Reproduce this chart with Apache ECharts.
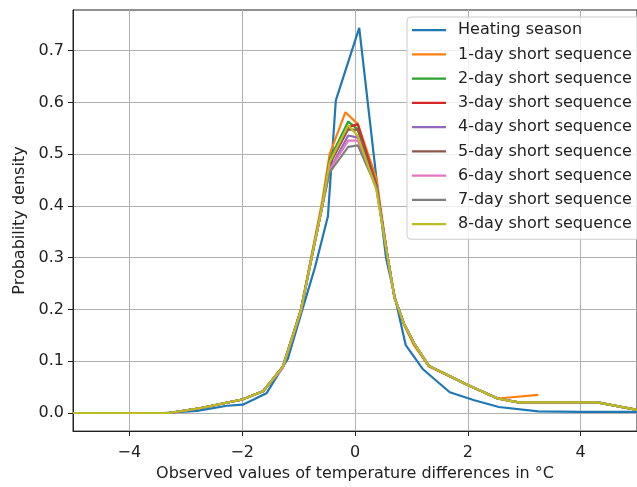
<!DOCTYPE html>
<html>
<head>
<meta charset="utf-8">
<script src="https://cdn.jsdelivr.net/npm/echarts@6/dist/echarts.min.js"></script>
<style>
html,body{margin:0;padding:0;background:#fff;}
#chart{width:637px;height:487px;}
</style>
</head>
<body>
<div id="chart"></div>
<script>
const seriesNames = ["Heating season","1-day short sequence","2-day short sequence","3-day short sequence","4-day short sequence","5-day short sequence","6-day short sequence","7-day short sequence","8-day short sequence"];
const colors = ["#1f77b4","#ff7f0e","#2ca02c","#d62728","#9467bd","#8c564b","#e377c2","#7f7f7f","#bcbd22"];
const xTicks = [-4, -2, 0, 2, 4];
const yTicks = [0, 0.1, 0.2, 0.3, 0.4, 0.5, 0.6, 0.7];

const heatX = [-5, -3.4, -2.8, -2.27, -1.99, -1.57, -1.19, -0.96, -0.71, -0.48, -0.34, 0.075, 0.38, 0.55, 0.9, 1.2, 1.68, 2.1, 2.55, 3.25, 4, 5];
const heatY = [0, 0, 0.004, 0.014, 0.016, 0.038, 0.105, 0.19, 0.281, 0.38, 0.604, 0.744, 0.453, 0.30, 0.131, 0.085, 0.040, 0.025, 0.0115, 0.003, 0.002, 0.002];

const day1X = [-5, -3.3, -2.73, -2.0, -1.63, -1.28, -0.96, -0.77, -0.58, -0.45, -0.17, 0.05, 0.38, 0.58, 0.7, 0.87, 1.05, 1.31, 2.0, 2.53, 3.25];
const day1Y = [0, 0, 0.0096, 0.026, 0.042, 0.09, 0.2, 0.305, 0.41, 0.5, 0.581, 0.558, 0.453, 0.30, 0.225, 0.17, 0.13, 0.09, 0.054, 0.028, 0.035];

const shortX = [-5, -3.3, -2.73, -2.0, -1.63, -1.28, -0.96, -0.77, -0.58, -0.45, -0.12, 0.05, 0.38, 0.58, 0.7, 0.87, 1.05, 1.31, 2.0, 2.53, 2.9, 4.3, 5];
const day2Y = [0, 0, 0.0096, 0.026, 0.042, 0.089, 0.198, 0.30, 0.40, 0.49, 0.563, 0.548, 0.435, 0.30, 0.223, 0.172, 0.134, 0.091, 0.054, 0.028, 0.0205, 0.0205, 0.006];
const day3Y = [0, 0, 0.0096, 0.026, 0.042, 0.089, 0.198, 0.30, 0.40, 0.485, 0.552, 0.558, 0.44, 0.30, 0.223, 0.172, 0.134, 0.091, 0.054, 0.028, 0.0205, 0.0205, 0.006];
const day4Y = [0, 0, 0.0096, 0.026, 0.042, 0.088, 0.197, 0.30, 0.40, 0.47, 0.536, 0.532, 0.435, 0.30, 0.223, 0.172, 0.134, 0.091, 0.054, 0.028, 0.0205, 0.0205, 0.006];
const day5Y = [0, 0, 0.0096, 0.026, 0.042, 0.089, 0.198, 0.30, 0.40, 0.48, 0.548, 0.547, 0.44, 0.30, 0.223, 0.172, 0.134, 0.091, 0.054, 0.028, 0.0205, 0.0205, 0.006];
const day6Y = [0, 0, 0.0096, 0.026, 0.042, 0.087, 0.196, 0.30, 0.40, 0.47, 0.526, 0.526, 0.435, 0.30, 0.223, 0.172, 0.134, 0.091, 0.054, 0.028, 0.0205, 0.0205, 0.006];
const day7Y = [0, 0, 0.0096, 0.026, 0.042, 0.089, 0.198, 0.30, 0.40, 0.465, 0.514, 0.517, 0.435, 0.30, 0.223, 0.172, 0.134, 0.091, 0.054, 0.028, 0.0205, 0.0205, 0.006];
const day8Y = [0, 0, 0.0096, 0.026, 0.042, 0.089, 0.198, 0.30, 0.40, 0.485, 0.556, 0.535, 0.43, 0.30, 0.223, 0.172, 0.134, 0.091, 0.054, 0.028, 0.0205, 0.0205, 0.006];

const seriesXs = [heatX, day1X, shortX, shortX, shortX, shortX, shortX, shortX, shortX];
const seriesYs = [heatY, day1Y, day2Y, day3Y, day4Y, day5Y, day6Y, day7Y, day8Y];

const FONT = "DejaVu Sans";
const chart = echarts.init(document.getElementById('chart'), null, {renderer: 'canvas'});

const series = seriesNames.map((name, i) => ({
  name: name,
  type: 'line',
  data: seriesXs[i].map((x, j) => [x, seriesYs[i][j]]),
  symbol: 'none',
  showSymbol: false,
  smooth: false,
  lineStyle: {color: colors[i], width: 2.2},
  itemStyle: {color: colors[i]},
  emphasis: {disabled: true},
  animation: false,
  clip: true,
  z: 2 + i
}));

const option = {
  animation: false,
  backgroundColor: '#ffffff',
  grid: {left: 73, top: 10, width: 574, height: 425, show: true, borderColor: '#222', borderWidth: 1, backgroundColor: 'transparent', containLabel: false},
  xAxis: {
    type: 'value', min: -5, max: 5,
    name: 'Observed values of temperature differences in °C',
    nameLocation: 'middle', nameGap: 31,
    nameTextStyle: {fontFamily: FONT, fontSize: 16, color: '#222'},
    axisLine: {show: true, onZero: false, lineStyle: {color: '#222', width: 1}},
    axisTick: {show: true, inside: false, length: 5, customValues: xTicks, lineStyle: {color: '#222', width: 1}},
    axisLabel: {show: true, margin: 14, customValues: xTicks, fontFamily: FONT, fontSize: 16, color: '#222',
      formatter: v => (v < 0 ? '\u2212' : '') + Math.abs(v)},
    splitLine: {show: true, lineStyle: {color: '#b0b0b0', width: 1}}
  },
  yAxis: {
    type: 'value', min: -0.035, max: 0.7785,
    name: 'Probability density',
    nameLocation: 'middle', nameGap: 44,
    nameTextStyle: {fontFamily: FONT, fontSize: 16, color: '#222'},
    axisLine: {show: true, onZero: false, lineStyle: {color: '#222', width: 1}},
    axisTick: {show: true, inside: false, length: 5, customValues: yTicks, lineStyle: {color: '#222', width: 1}},
    axisLabel: {show: true, margin: 9, customValues: yTicks, fontFamily: FONT, fontSize: 16, color: '#222',
      formatter: v => v.toFixed(1)},
    splitLine: {show: true, lineStyle: {color: '#b0b0b0', width: 1}}
  },
  legend: {
    show: true,
    orient: 'vertical',
    left: 407, top: 17,
    padding: [1, 12, 3, 5],
    itemGap: 0,
    icon: 'rect',
    itemWidth: 34, itemHeight: 2.4,
    backgroundColor: 'rgba(255,255,255,0.8)',
    borderColor: '#cccccc', borderWidth: 1, borderRadius: 4,
    selectedMode: false,
    textStyle: {fontFamily: FONT, fontSize: 16, color: '#222', lineHeight: 24.25, padding: [0, 0, 0, 7]},
    data: seriesNames.map((n, i) => ({name: n, icon: 'rect', itemStyle: {color: colors[i], borderWidth: 0}}))
  },
  series: series
};
chart.setOption(option);
</script>
</body>
</html>
